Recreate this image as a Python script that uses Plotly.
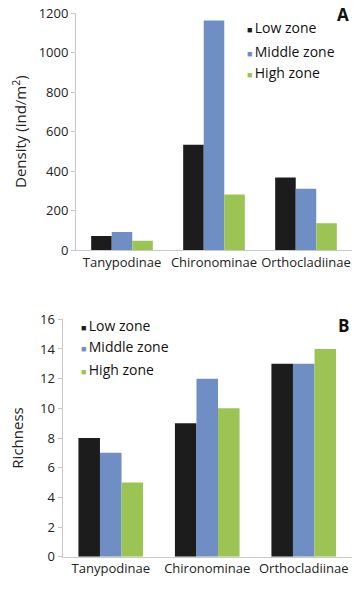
import plotly.graph_objects as go

categories = ["Tanypodinae", "Chironominae", "Orthocladiinae"]
zones = ["Low zone", "Middle zone", "High zone"]
colors = ["#1c1c1c", "#6f8fc4", "#9bc454"]

density_low = [71, 534, 367]
density_middle = [91, 1163, 311]
density_high = [47, 282, 135]

richness_low = [8, 9, 13]
richness_middle = [7, 12, 13]
richness_high = [5, 10, 14]

density = [density_low, density_middle, density_high]
richness = [richness_low, richness_middle, richness_high]

W, H = 361, 602
FONT = "Open Sans"

fig = go.Figure()
for i, z in enumerate(zones):
    fig.add_trace(go.Bar(x=categories, y=density[i], name=z, marker_color=colors[i],
                         marker_line_width=0, xaxis="x", yaxis="y", showlegend=False))
for i, z in enumerate(zones):
    fig.add_trace(go.Bar(x=categories, y=richness[i], name=z, marker_color=colors[i],
                         marker_line_width=0, xaxis="x2", yaxis="y2", showlegend=False))

def px_x(p):
    return p / W

def px_y(p):
    return 1 - p / H

axis_common = dict(showgrid=False, zeroline=False, showline=True, linecolor="#c8c8c8",
                   linewidth=1, automargin=False,
                   tickfont=dict(family=FONT, size=13, color="#222"))

fig.update_layout(
    width=W, height=H,
    margin=dict(l=0, r=0, t=0, b=0),
    paper_bgcolor="white", plot_bgcolor="white",
    barmode="group", bargap=0.33, bargroupgap=0,
    xaxis=dict(domain=[px_x(76), px_x(352)], anchor="y", ticks="", **axis_common),
    yaxis=dict(domain=[px_y(250), px_y(13.3)], anchor="x", range=[0, 1200], dtick=200,
               ticks="outside", ticklen=4, tickcolor="#c8c8c8",
               title=dict(text="Density (ind/m<sup>2</sup>)", font=dict(family=FONT, size=15, color="#222"),
                          standoff=8),
               **axis_common),
    xaxis2=dict(domain=[px_x(62.5), px_x(352)], anchor="y2", ticks="", **axis_common),
    yaxis2=dict(domain=[px_y(556.7), px_y(319.3)], anchor="x2", range=[0, 16], dtick=2,
                ticks="outside", ticklen=4, tickcolor="#c8c8c8",
                title=dict(text="Richness", font=dict(family=FONT, size=15, color="#222"),
                           standoff=12),
                **axis_common),
    showlegend=False,
)

# panel letters
fig.add_annotation(text="<b>A</b>", x=px_x(351), y=px_y(15), xref="paper", yref="paper",
                   xanchor="right", yanchor="middle", showarrow=False,
                   font=dict(family=FONT, size=17, color="#111"))
fig.add_annotation(text="<b>B</b>", x=px_x(351), y=px_y(325), xref="paper", yref="paper",
                   xanchor="right", yanchor="middle", showarrow=False,
                   font=dict(family=FONT, size=17, color="#111"))

# legends
def add_legend(x0, ys):
    for i, z in enumerate(zones):
        fig.add_annotation(
            text=f"<span style='font-size:9px;color:{colors[i]}'>■ </span>{z}",
            x=px_x(x0), y=px_y(ys[i]), xref="paper", yref="paper",
            xanchor="left", yanchor="middle", showarrow=False,
            font=dict(family=FONT, size=14, color="#111"))

add_legend(245, [28, 51, 73])
add_legend(79, [325, 347, 369])

fig.write_html("out.html", config={"displayModeBar": False},
               post_script="document.body.style.margin='0';document.body.style.overflow='hidden';")
